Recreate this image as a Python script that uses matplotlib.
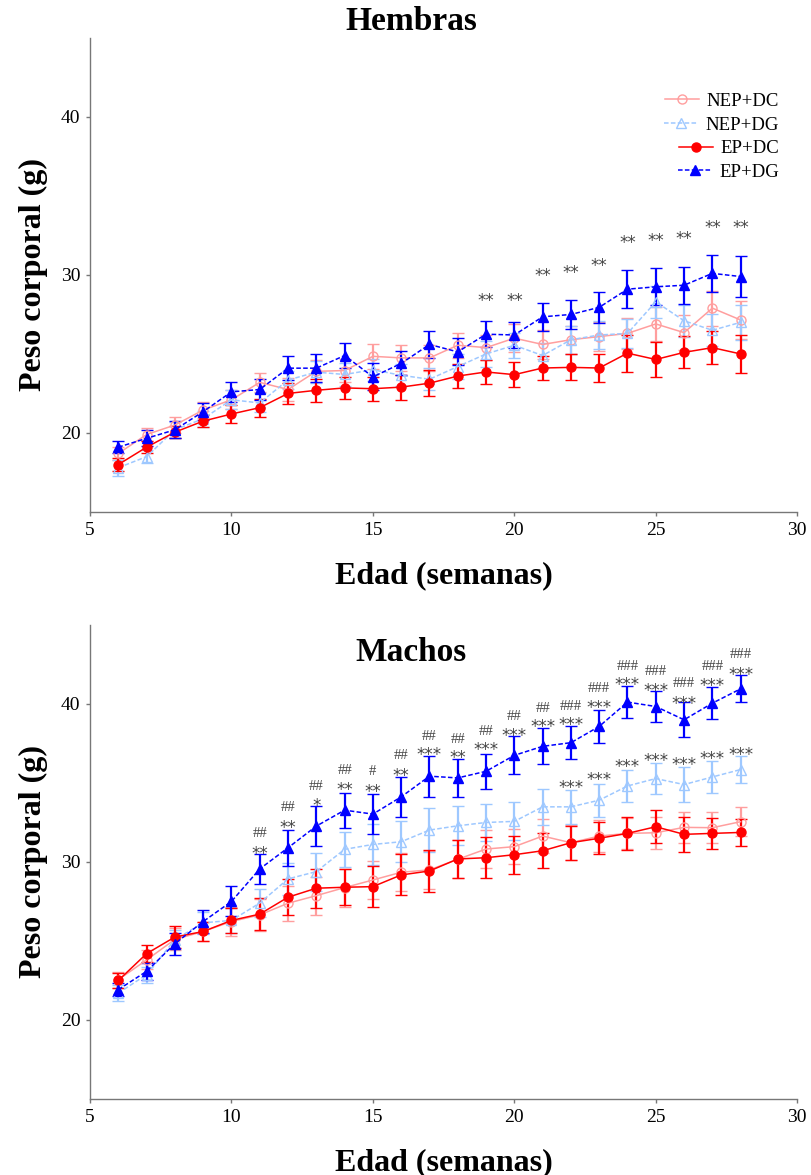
import matplotlib
matplotlib.use("Agg")
import matplotlib.pyplot as plt
import numpy as np

plt.rcParams['font.family'] = ['Liberation Serif', 'DejaVu Serif']

semanas = np.arange(6, 29)

# Hembras: medias y SEM
h_nep_dc = [18.7, 19.9, 20.5, 21.45, 22.1, 23.2, 22.75, 23.9, 23.95, 24.85, 24.75, 24.75,
            25.55, 25.4, 26.0, 25.6, 25.9, 26.1, 26.3, 26.9, 26.35, 27.9, 27.15]
h_nep_dg = [17.8, 18.5, 20.2, 20.9, 22.1, 21.9, 23.35, 23.85, 23.7, 24.0, 23.65, 23.4,
            24.2, 25.0, 25.55, 24.9, 25.9, 26.2, 26.3, 28.3, 27.1, 26.5, 27.0]
h_ep_dc = [18.0, 19.1, 20.05, 20.75, 21.2, 21.6, 22.5, 22.7, 22.85, 22.8, 22.9, 23.15,
           23.6, 23.86, 23.69, 24.11, 24.15, 24.11, 25.05, 24.65, 25.1, 25.4, 25.0]
h_ep_dg = [19.1, 19.66, 20.2, 21.35, 22.6, 22.75, 24.1, 24.1, 24.9, 23.55, 24.4, 25.6,
           25.13, 26.25, 26.2, 27.35, 27.5, 27.95, 29.1, 29.25, 29.35, 30.1, 29.9]

h_nep_dc_sem = [0.4, 0.4, 0.5, 0.5, 0.6, 0.6, 0.7, 0.7, 0.7, 0.8, 0.8, 0.8,
                0.8, 0.8, 0.9, 0.9, 0.9, 0.9, 1.0, 1.1, 1.1, 1.1, 1.2]
h_nep_dg_sem = [0.5, 0.4, 0.5, 0.5, 0.6, 0.6, 0.6, 0.7, 0.7, 0.7, 0.7, 0.7,
                0.8, 0.8, 0.8, 0.8, 0.9, 0.9, 0.9, 1.0, 1.0, 1.0, 1.1]
h_ep_dc_sem = [0.4, 0.4, 0.4, 0.4, 0.55, 0.57, 0.64, 0.74, 0.7, 0.77, 0.79, 0.82,
               0.78, 0.74, 0.79, 0.79, 0.82, 0.89, 1.18, 1.1, 1.02, 1.05, 1.18]
h_ep_dg_sem = [0.4, 0.5, 0.53, 0.53, 0.63, 0.64, 0.74, 0.87, 0.77, 0.86, 0.76, 0.88,
               0.86, 0.82, 0.82, 0.9, 0.9, 1.0, 1.19, 1.17, 1.16, 1.19, 1.3]

# Machos: medias y SEM
m_nep_dc = [22.55, 23.8, 25.1, 25.6, 26.23, 26.65, 27.39, 27.87, 28.38, 28.86, 29.35, 29.5,
            30.17, 30.82, 30.97, 31.64, 31.22, 31.64, 31.81, 31.85, 32.19, 32.17, 32.55]
m_nep_dg = [21.7, 22.87, 25.08, 26.15, 26.3, 27.4, 28.93, 29.39, 30.8, 31.11, 31.28, 32.02,
            32.29, 32.5, 32.57, 33.49, 33.49, 33.91, 34.81, 35.28, 34.9, 35.38, 35.85]
m_ep_dc = [22.5, 24.2, 25.25, 25.6, 26.3, 26.7, 27.77, 28.34, 28.4, 28.44, 29.18, 29.43,
           30.19, 30.27, 30.46, 30.71, 31.22, 31.5, 31.81, 32.23, 31.75, 31.81, 31.87]
m_ep_dg = [21.92, 23.08, 24.83, 26.23, 27.5, 29.56, 30.9, 32.27, 33.28, 33.03, 34.12, 35.43,
           35.32, 35.74, 36.75, 37.32, 37.55, 38.58, 40.12, 39.84, 39.0, 40.05, 40.96]

m_nep_dc_sem = [0.5, 0.6, 0.7, 0.6, 0.9, 1.0, 1.1, 1.2, 1.2, 1.2, 1.2, 1.2,
                1.2, 1.2, 1.1, 1.1, 1.1, 1.0, 1.0, 1.0, 1.0, 1.0, 0.9]
m_nep_dg_sem = [0.5, 0.5, 0.6, 0.7, 0.8, 0.9, 1.0, 1.2, 1.1, 1.28, 1.3, 1.37,
                1.24, 1.2, 1.2, 1.15, 1.07, 1.05, 1.0, 1.0, 1.1, 1.0, 0.85]
m_ep_dc_sem = [0.5, 0.55, 0.7, 0.6, 0.8, 1.0, 1.15, 1.23, 1.15, 1.28, 1.3, 1.3,
               1.23, 1.3, 1.2, 1.1, 1.08, 1.0, 1.03, 1.05, 1.1, 1.0, 0.85]
m_ep_dg_sem = [0.4, 0.55, 0.7, 0.7, 0.95, 0.95, 1.15, 1.26, 1.1, 1.28, 1.28, 1.3,
               1.2, 1.1, 1.2, 1.13, 1.05, 1.04, 1.0, 1.0, 1.1, 1.0, 0.85]

# Significancias
h_sig_sem = [19, 20, 21, 22, 23, 24, 25, 26, 27, 28]
h_sig_y = [28.63, 28.63, 30.2, 30.38, 30.84, 32.25, 32.4, 32.5, 33.2, 33.2]
h_sig_lab = ["**"] * 10

m_sig_sem = list(range(11, 29))
m_star_lab = ["**", "**", "*", "**", "**", "**", "***", "**", "***", "***", "***", "***",
              "***", "***", "***", "***", "***", "***"]
m_star_y = [30.76, 32.4, 33.8, 34.8, 34.71, 35.7, 37.02, 36.81, 37.32, 38.22, 38.79, 38.92,
            40.0, 41.42, 41.06, 40.28, 41.38, 42.1]
m_hash_lab = ["##", "##", "##", "##", "#", "##", "##", "##", "##", "##", "##", "###",
              "###", "###", "###", "###", "###", "###"]
m_hash_y = [31.81, 33.45, 34.8, 35.8, 35.7, 36.71, 37.97, 37.76, 38.28, 39.21, 39.73, 39.86,
            41.0, 42.39, 42.05, 41.3, 42.37, 43.12]
m_nep_sig_sem = [22, 23, 24, 25, 26, 27, 28]
m_nep_sig_y = [34.92, 35.43, 36.29, 36.64, 36.39, 36.75, 37.02]

grupos = ["NEP+DC", "NEP+DG", "EP+DC", "EP+DG"]
estilos = {
    "NEP+DC": dict(color="#ff9e9e", ls="-", marker="o", mfc="none"),
    "NEP+DG": dict(color="#9ec8ff", ls="--", marker="^", mfc="none"),
    "EP+DC": dict(color="#ff0000", ls="-", marker="o", mfc="#ff0000"),
    "EP+DG": dict(color="#0000ff", ls="--", marker="^", mfc="#0000ff"),
}


def dibujar(ax, medias, sems):
    lineas = []
    for g, m, s in zip(grupos, medias, sems):
        st = estilos[g]
        c = ax.errorbar(semanas, m, yerr=s, color=st["color"], ls=st["ls"], lw=1.1,
                        marker=st["marker"], ms=6.5, mfc=st["mfc"], mec=st["color"], mew=1.0,
                        capsize=4, capthick=1.6, elinewidth=1.6, label=g,
                        dashes=(3, 1.5) if st["ls"] == "--" else (None, None))
        lineas.append(c[0])
    ax.set_xlim(5, 30)
    ax.set_ylim(15, 45)
    ax.set_xticks([5, 10, 15, 20, 25, 30])
    ax.set_yticks([20, 30, 40])
    for sp in ["top", "right"]:
        ax.spines[sp].set_visible(False)
    for sp in ["left", "bottom"]:
        ax.spines[sp].set_color("#777777")
        ax.spines[sp].set_linewidth(1.0)
    ax.tick_params(direction="out", length=3, width=1, color="#777777", labelsize=14, pad=4)
    ax.set_xlabel("Edad (semanas)", fontsize=23, fontweight="bold", labelpad=16)
    ax.set_ylabel("Peso corporal (g)", fontsize=23, fontweight="bold", labelpad=9)
    return lineas


fig = plt.figure(figsize=(8.11, 11.75), dpi=100)
ax1 = fig.add_axes([0.111, 0.5643, 0.872, 0.4034])
ax2 = fig.add_axes([0.111, 0.0647, 0.872, 0.4034])

lineas = dibujar(ax1, [h_nep_dc, h_nep_dg, h_ep_dc, h_ep_dg],
                 [h_nep_dc_sem, h_nep_dg_sem, h_ep_dc_sem, h_ep_dg_sem])
dibujar(ax2, [m_nep_dc, m_nep_dg, m_ep_dc, m_ep_dg],
        [m_nep_dc_sem, m_nep_dg_sem, m_ep_dc_sem, m_ep_dg_sem])

fig.text(0.507, 0.9813, "Hembras", fontsize=24, fontweight="bold", ha="center", va="center")
fig.text(0.507, 0.4451, "Machos", fontsize=24, fontweight="bold", ha="center", va="center")

gris = "#444444"
ast = dict(fontsize=12, color=gris, ha="center", va="center", family="DejaVu Sans")
bajar = 0.25  # el asterisco se dibuja alto dentro de su caja
for w, y, t in zip(h_sig_sem, h_sig_y, h_sig_lab):
    ax1.text(w, y - bajar, t, **ast)
for w, y, t in zip(m_sig_sem, m_star_y, m_star_lab):
    ax2.text(w, y - bajar, t, **ast)
for w, y, t in zip(m_sig_sem, m_hash_y, m_hash_lab):
    ax2.text(w, y, t, fontsize=10.5, color=gris, ha="center", va="center")
for w, y in zip(m_nep_sig_sem, m_nep_sig_y):
    ax2.text(w, y - bajar, "***", **ast)

leg = ax1.legend(lineas, grupos, loc="upper right", bbox_to_anchor=(0.985, 0.9), frameon=False,
                 fontsize=13.5, handlelength=1.8, handletextpad=0.4, labelspacing=0.35,
                 borderaxespad=0)
for col in leg._legend_handle_box.get_children():
    col.align = "right"

fig.savefig("out.png", dpi=100)
